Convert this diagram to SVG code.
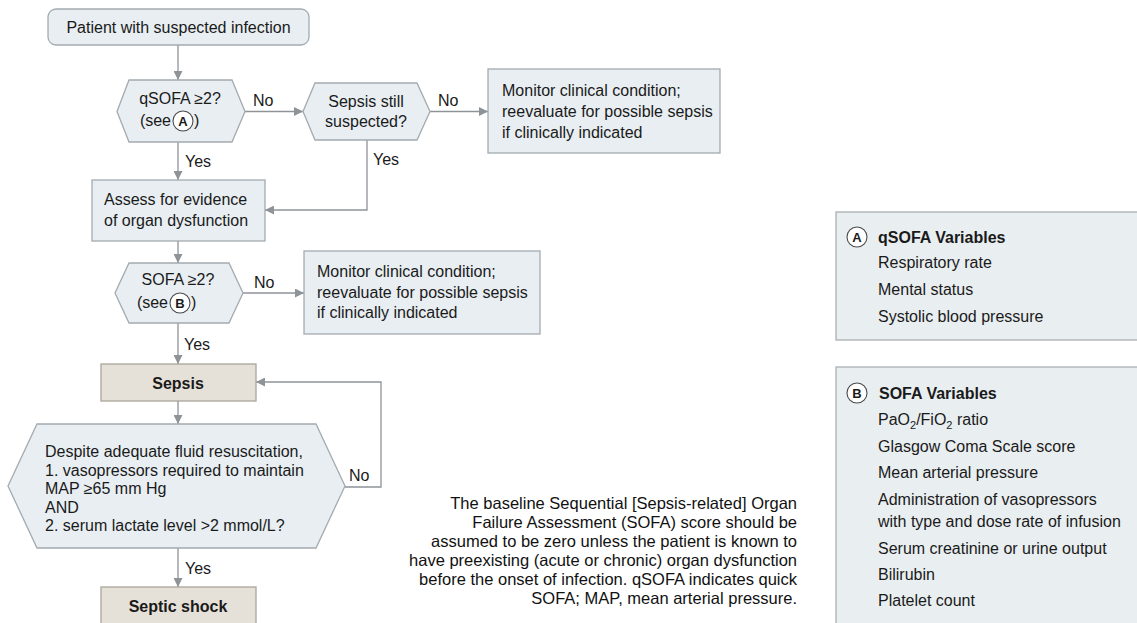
<svg xmlns="http://www.w3.org/2000/svg" width="1137" height="623" viewBox="0 0 1137 623">
<defs>
<style>
text{font-family:"Liberation Sans",Arial,sans-serif;fill:#1a1a1a;font-size:16px}
.node{fill:#e8eef2;stroke:#a3abb0;stroke-width:1.3}
.tan{fill:#e6e1d8;stroke:#aaa59c;stroke-width:1.3}
.panel{fill:#e9eef1;stroke:#a9b0b4;stroke-width:1.3}
.conn{fill:none;stroke:#8e9398;stroke-width:1.3}
.b{font-weight:bold}
.c{text-anchor:middle}
.circ{fill:#fff;stroke:#4a4a4a;stroke-width:1.1}
.cl{font-size:13px;font-weight:bold;text-anchor:middle}
.note{font-size:16.5px;text-anchor:end;fill:#111}
</style>
<marker id="ah" viewBox="0 0 10 10" refX="10" refY="5" markerWidth="9" markerHeight="9" markerUnits="userSpaceOnUse" orient="auto">
<path d="M0,0 L10,5 L0,10 z" fill="#8e9398"/>
</marker>
</defs>
<rect width="1137" height="623" fill="#ffffff"/>

<g id="connectors">
<line class="conn" x1="178" y1="45" x2="178" y2="80" marker-end="url(#ah)"/>
<line class="conn" x1="245" y1="111.5" x2="303" y2="111.5" marker-end="url(#ah)"/>
<line class="conn" x1="430" y1="111.5" x2="488" y2="111.5" marker-end="url(#ah)"/>
<line class="conn" x1="178" y1="142" x2="178" y2="180" marker-end="url(#ah)"/>
<polyline class="conn" points="367,140 367,210 265,210" marker-end="url(#ah)"/>
<line class="conn" x1="178" y1="241" x2="178" y2="263" marker-end="url(#ah)"/>
<line class="conn" x1="243" y1="293" x2="304" y2="293" marker-end="url(#ah)"/>
<line class="conn" x1="178" y1="323" x2="178" y2="364" marker-end="url(#ah)"/>
<line class="conn" x1="178" y1="401" x2="178" y2="424" marker-end="url(#ah)"/>
<polyline class="conn" points="345,487 381,487 381,382 256,382" marker-end="url(#ah)"/>
<line class="conn" x1="178" y1="548" x2="178" y2="587" marker-end="url(#ah)"/>
<text x="253" y="106">No</text>
<text x="438" y="106">No</text>
<text x="185" y="167">Yes</text>
<text x="373" y="165">Yes</text>
<text x="254" y="288">No</text>
<text x="184" y="350">Yes</text>
<text x="349" y="481">No</text>
<text x="185" y="574">Yes</text>
</g>

<g id="start">
<rect class="node" x="48" y="9" width="261" height="36" rx="8"/>
<text class="c" x="178.5" y="33">Patient with suspected infection</text>
</g>

<g id="qsofa">
<polygon class="node" points="117,111.5 129,80 232,80 245,111.5 232,142 129,142"/>
<text class="c" x="180" y="104">qSOFA ≥2?</text>
<text x="171" y="126" text-anchor="end">(see</text>
<circle class="circ" cx="183" cy="121" r="10"/>
<text class="cl" x="183" y="126">A</text>
<text x="194" y="126">)</text>
</g>

<g id="still">
<polygon class="node" points="303,111.5 315,83 417,83 430,111.5 417,140 315,140"/>
<text class="c" x="366" y="107">Sepsis still</text>
<text class="c" x="366" y="127">suspected?</text>
</g>

<g id="monitor1">
<rect class="node" x="488" y="69" width="232" height="84"/>
<text x="502" y="96">Monitor clinical condition;</text>
<text x="502" y="117">reevaluate for possible sepsis</text>
<text x="502" y="138">if clinically indicated</text>
</g>

<g id="assess">
<rect class="node" x="92" y="180" width="173" height="61"/>
<text x="104" y="205">Assess for evidence</text>
<text x="104" y="226">of organ dysfunction</text>
</g>

<g id="sofa">
<polygon class="node" points="115,293 129,263 229,263 243,293 229,323 129,323"/>
<text class="c" x="178" y="285">SOFA ≥2?</text>
<text x="168" y="308" text-anchor="end">(see</text>
<circle class="circ" cx="180" cy="303" r="10"/>
<text class="cl" x="180" y="308">B</text>
<text x="191" y="308">)</text>
</g>

<g id="monitor2">
<rect class="node" x="304" y="251" width="236" height="83"/>
<text x="317" y="277">Monitor clinical condition;</text>
<text x="317" y="298">reevaluate for possible sepsis</text>
<text x="317" y="318">if clinically indicated</text>
</g>

<g id="sepsis">
<rect class="tan" x="101" y="364" width="155" height="37"/>
<text class="c b" x="178" y="389">Sepsis</text>
</g>

<g id="shockcheck">
<polygon class="node" points="8,486 37,424 316,424 345,486 316,548 37,548"/>
<text x="45" y="457">Despite adequate fluid resuscitation,</text>
<text x="45" y="476">1. vasopressors required to maintain</text>
<text x="45" y="494">MAP ≥65 mm Hg</text>
<text x="45" y="513">AND</text>
<text x="45" y="531">2. serum lactate level &gt;2 mmol/L?</text>
</g>

<g id="septicshock">
<rect class="tan" x="101" y="587" width="155" height="40"/>
<text class="c b" x="178" y="612">Septic shock</text>
</g>

<g id="note">
<text class="note" x="797" y="509">The baseline Sequential [Sepsis-related] Organ</text>
<text class="note" x="797" y="528">Failure Assessment (SOFA) score should be</text>
<text class="note" x="797" y="547">assumed to be zero unless the patient is known to</text>
<text class="note" x="797" y="566">have preexisting (acute or chronic) organ dysfunction</text>
<text class="note" x="797" y="585">before the onset of infection. qSOFA indicates quick</text>
<text class="note" x="797" y="604">SOFA; MAP, mean arterial pressure.</text>
</g>

<g id="panelA">
<rect class="panel" x="836" y="212" width="310" height="128"/>
<circle class="circ" cx="857" cy="237" r="10"/>
<text class="cl" x="857" y="242">A</text>
<text class="b" x="878" y="243" font-size="15">qSOFA Variables</text>
<text x="878" y="268">Respiratory rate</text>
<text x="878" y="295">Mental status</text>
<text x="878" y="322">Systolic blood pressure</text>
</g>

<g id="panelB">
<rect class="panel" x="836" y="367" width="310" height="270"/>
<circle class="circ" cx="857" cy="393" r="10"/>
<text class="cl" x="857" y="398">B</text>
<text class="b" x="879" y="399" font-size="15">SOFA Variables</text>
<text x="878" y="425">PaO<tspan font-size="11" dy="4">2</tspan><tspan dy="-4">/FiO</tspan><tspan font-size="11" dy="4">2</tspan><tspan dy="-4"> ratio</tspan></text>
<text x="878" y="452">Glasgow Coma Scale score</text>
<text x="878" y="478">Mean arterial pressure</text>
<text x="878" y="505">Administration of vasopressors</text>
<text x="878" y="527">with type and dose rate of infusion</text>
<text x="878" y="554">Serum creatinine or urine output</text>
<text x="878" y="580">Bilirubin</text>
<text x="878" y="606">Platelet count</text>
</g>
</svg>
